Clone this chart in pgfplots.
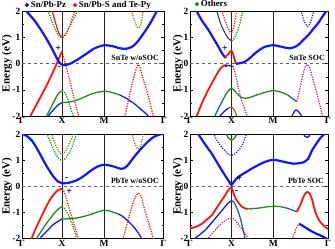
\documentclass[border=0pt]{standalone}
\usepackage{pgfplots}
\pgfplotsset{compat=1.18}
\usepackage{fontspec}
\setmainfont{Liberation Serif}
\definecolor{cblue}{RGB}{20,20,255}
\definecolor{cred}{RGB}{255,20,20}
\definecolor{cgreen}{RGB}{30,140,30}
\definecolor{colive}{RGB}{140,120,40}
\definecolor{cteal}{RGB}{30,100,150}
\definecolor{cpurple}{RGB}{200,30,120}
\definecolor{cnavy}{RGB}{40,60,110}
\tikzset{
  ann/.style={font=\bfseries\fontsize{10}{10}\selectfont, inner sep=0pt},
  txt/.style={font=\bfseries\fontsize{8}{8}\selectfont, anchor=east, inner sep=0pt},
  plab/.style={font=\bfseries\fontsize{10.5}{11}\selectfont, inner sep=0pt},
}
\pgfplotsset{
  panel/.style={scale only axis, ymin=-2, ymax=2, xmin=0, clip=true,
    axis line style={line width=0.8pt},
    ytick={-2,-1,0,1,2}, yticklabels={-2,-1,0,1,2},
    minor ytick={-1.5,-0.5,0.5,1.5},
    tick align=inside, major tick length=3bp, minor tick length=2bp,
    ytick pos=both,
    xtick style={draw=none},
    xticklabels={\textbf{Γ},\textbf{X},\textbf{M},\textbf{Γ}},
    xmajorgrids, major grid style={black!85, line width=0.8pt},
    yticklabel style={font=\bfseries\fontsize{9.5}{10}\selectfont, inner sep=1.5pt},
    xticklabel style={font=\bfseries\fontsize{9.5}{10}\selectfont, inner sep=1.5pt},
    ylabel={Energy (eV)},
    ylabel style={font=\bfseries\fontsize{11}{12}\selectfont, anchor=center},
    every tick/.style={black, line width=0.6pt},
  },
  bl/.style={cblue, line width=2.2pt, smooth, mark=none},
  bs/.style={cblue, line width=1.3pt, smooth, mark=none},
  rs/.style={cred, line width=1.8pt, smooth, mark=none},
  rt/.style={cred, line width=1.2pt, smooth, mark=none},
  gs/.style={cgreen, line width=1.3pt, smooth, mark=none},
  ts/.style={cteal, line width=1.3pt, smooth, mark=none},
  os/.style={colive, line width=1.3pt, smooth, mark=none},
  ns/.style={cnavy, line width=1.1pt, smooth, mark=none},
  rd/.style={cred, line width=1.3pt, dash pattern=on 1.2pt off 1.3pt, smooth, mark=none},
  pd/.style={cpurple, line width=1.3pt, dash pattern=on 1.2pt off 1.3pt, smooth, mark=none},
  gd/.style={cgreen, line width=1.3pt, dash pattern=on 1.2pt off 1.3pt, smooth, mark=none},
  od/.style={colive, line width=1.3pt, dash pattern=on 1.2pt off 1.3pt, smooth, mark=none},
  bd/.style={cblue, line width=1.2pt, dash pattern=on 1.2pt off 1.3pt, smooth, mark=none},
  zl/.style={black!60, line width=0.9pt, dash pattern=on 3.5pt off 2.5pt, mark=none},
  ldot/.style={only marks, mark=*, mark size=1.9pt, mark options={solid}},
}
\begin{document}
\begin{tikzpicture}
\useasboundingbox (0,0) rectangle (335bp,249bp);
% ---------------- (a) SnTe w/oSOC
\begin{axis}[panel, at={(22bp,133bp)}, anchor=south west, width=142bp, height=104.5bp,
  xmax=142, xtick={0,40,82,142},
  ylabel style={at={(axis description cs:-0.105,0.5)}},
  legend style={at={(axis description cs:0.02,1.062)}, anchor=west, draw=none, fill=none,
    font=\bfseries\fontsize{9}{9}\selectfont, inner sep=0pt,
    /tikz/every even column/.append style={column sep=5bp}},
  legend columns=2, legend cell align=left]
\addlegendimage{ldot, cblue}
\addlegendentry{Sn/Pb-Pz}
\addlegendimage{ldot, cred}
\addlegendentry{Sn/Pb-S and Te-Py}
\addplot[zl] coordinates {(0,0) (142,0)};
\addplot[gd] coordinates {(26,2.05)(30,1.6)(34,1.25)(37,1.07)(40,1.0)(43,1.08)(46,1.3)(49,1.6)(53,2.05)};
\addplot[rt] coordinates {(30,2.05)(34,1.5)(37,1.15)(40,1.02)};
\addplot[rd] coordinates {(40,1.02)(44,1.15)(48,1.45)(52,1.75)(56,2.05)};
\addplot[rs] coordinates {(6,-2.2)(9,-1.96)(14,-1.6)(19.7,-1.19)(25,-0.8)(29.7,-0.42)(33,-0.15)(36.3,0.15)(38.5,0.35)(40,0.47)};
\addplot[rd] coordinates {(40,0.47)(43,0.05)(46.3,-0.42)(51,-1.15)(56.3,-1.96)(57.5,-2.2)};
\addplot[gs] coordinates {(23,-2.2)(24.7,-2)(30,-1.6)(35,-1.22)(38,-1.08)(40,-1.04)};
\addplot[gd] coordinates {(40,-1.04)(43,-1.12)(46,-1.4)(51.3,-2)(52.5,-2.2)};
\addplot[bs] coordinates {(24,-2.15)(26.3,-2.0)(31,-1.78)(36,-1.58)(40,-1.49)};
\addplot[gs] coordinates {(40,-1.49)(49.7,-1.45)(59.7,-1.32)(70,-1.15)(82,-1.05)(90,-1.1)(98,-1.2)};
\addplot[bs] coordinates {(98,-1.2)(104,-1.32)(111.3,-1.5)(117,-1.68)(121.3,-1.82)(126.3,-2.0)(128,-2.1)};
\addplot[rd] coordinates {(101,-2.2)(103,-2)(108,-1.1)(112,-0.5)(114.5,-0.15)(116.3,-0.03)(118,-0.15)(120.5,-0.5)(125,-1.05)(131.3,-2)(133,-2.2)};
\addplot[od] coordinates {(109.7,2.05)(112,1.7)(114.5,1.45)(116.3,1.37)(118.3,1.45)(120,1.7)(121.3,2.05)};
\addplot[bl] coordinates {(0,2.2)(4.7,2.0)(13,1.63)(18,1.35)(23,1.05)(29.7,0.6)(34.7,0.22)(38,0.02)(41,-0.05)(44,-0.04)(48,0.0)(54.7,0.14)(64.7,0.39)(72,0.58)(78,0.67)(82,0.71)(90,0.68)(97,0.6)(104,0.57)(110,0.65)(115,0.82)(123,1.24)(129,1.6)(134.7,2.0)(142,2.4)};
\node[ann] at (axis cs:36.3,0.57) {+};
\node[ann] at (axis cs:37.3,-0.17) {-};
\node[txt] at (axis cs:137,0.22) {SnTe w/oSOC};
\node[plab] at (axis description cs:-0.09,0.955) {(a)};
\end{axis}
% ---------------- (b) SnTe SOC
\begin{axis}[panel, at={(190bp,133bp)}, anchor=south west, width=138bp, height=104.5bp,
  xmax=138, xtick={0,41.5,83,138},
  ylabel style={at={(axis description cs:-0.087,0.5)}},
  legend style={at={(axis description cs:0.035,1.07)}, anchor=west, draw=none, fill=none,
    font=\bfseries\fontsize{9}{9}\selectfont, inner sep=0pt},
  legend cell align=left]
\addlegendimage{ldot, cgreen}
\addlegendentry{Others}
\addplot[zl] coordinates {(0,0) (138,0)};
\addplot[ns] coordinates {(26.7,2.05)(30,1.6)(34,1.25)(38,0.98)(41.5,0.88)};
\addplot[gd] coordinates {(41.5,0.88)(44,0.95)(47,1.2)(50,1.55)(53,2.05)};
\addplot[rd] coordinates {(31.7,2.05)(35,1.65)(38.5,1.33)(41.5,1.17)(43.5,1.35)(45,1.65)(46.5,2.05)};
\addplot[bl] coordinates {(0,2.35)(6.7,2.0)(12,1.65)(18.3,1.3)(23,1.0)(28.3,0.66)(32,0.4)(35,0.25)(36.5,0.24)};
\addplot[rs] coordinates {(35,0.24)(38,0.36)(40,0.46)(41.5,0.5)(43,0.38)(44.5,0.18)(46,0.0)};
\addplot[bl] coordinates {(46,0.0)(50,0.02)(55,0.08)(60,0.22)(65,0.4)(70,0.54)(75,0.65)(83,0.71)(89,0.67)(95,0.62)(100,0.59)(104,0.63)(108.3,0.72)(113,0.9)(118.3,1.1)(123,1.32)(128.3,1.56)(132,1.78)(136,2.0)(138,2.1)};
\addplot[rs] coordinates {(4,-2.2)(6.7,-2.0)(12,-1.5)(18.3,-1.0)(24,-0.6)(28.3,-0.3)(32,-0.12)(35,-0.05)};
\addplot[bs] coordinates {(35,-0.05)(39,-0.07)(43,-0.1)};
\addplot[pd] coordinates {(43,-0.1)(46,-0.5)(50,-1.2)(53,-1.55)(57,-2.0)(58,-2.2)};
\addplot[ts] coordinates {(23,-2.2)(25,-2)(27,-1.82)(32,-1.45)};
\addplot[gs] coordinates {(32,-1.45)(37,-1.1)(41.5,-0.94)(45,-1.05)(49,-1.22)(53,-1.31)(57,-1.32)(62,-1.26)(72,-1.13)(83,-1.03)(92,-1.1)(98,-1.2)};
\addplot[ts] coordinates {(98,-1.2)(102,-1.32)(106.7,-1.45)};
\addplot[pd] coordinates {(106.7,-1.45)(109.5,-1.0)(112.5,-0.5)(115,-0.15)(117.5,-0.03)(120,-0.2)(124,-0.75)(128,-1.3)(132.5,-2.0)(134,-2.2)};
\addplot[bs] coordinates {(102,-2.0)(104,-1.85)(106,-1.77)(108.5,-1.83)(111,-1.97)(112.5,-2.1)};
\addplot[bs] coordinates {(28,-2.15)(30,-2.0)(35,-1.8)(38.5,-1.7)};
\addplot[os] coordinates {(38.5,-1.7)(41.5,-1.66)(44,-1.75)(46.7,-2.0)(48,-2.15)};
\addplot[bd] coordinates {(111,2.05)(113.5,1.7)(117.5,1.42)(120.5,1.6)(123,1.9)(124,2.05)};
\node[ann] at (axis cs:35,0.56) {+};
\node[ann] at (axis cs:36,-0.17) {-};
\node[txt] at (axis cs:135,0.22) {SnTe SOC};
\node[plab] at (axis description cs:-0.09,0.94) {(b)};
\end{axis}
% ---------------- (c) PbTe w/oSOC
\begin{axis}[panel, at={(22bp,10.7bp)}, anchor=south west, width=141.5bp, height=104bp,
  xmax=141.5, xtick={0,40,82,141.5},
  ylabel style={at={(axis description cs:-0.105,0.5)}}]
\addplot[zl] coordinates {(0,0) (141.5,0)};
\addplot[gd] coordinates {(24.7,2.05)(30,1.55)(35,1.17)(40,0.98)(45,1.15)(50,1.5)(54.7,2.05)};
\addplot[od] coordinates {(29,2.05)(33,1.65)(37,1.33)(40,1.22)(43,1.33)(47,1.62)(52,2.05)};
\addplot[bl] coordinates {(0,2.02)(5,1.93)(10,1.75)(14.7,1.47)(20,1.1)(24.7,0.77)(31.3,0.38)(36,0.18)(40,0.12)(46,0.13)(54.7,0.23)(62,0.4)(68,0.58)(75,0.75)(82,0.83)(90,0.78)(99.7,0.67)(105,0.78)(111.3,1.09)(118,1.4)(124.7,1.67)(131,1.88)(137.3,1.99)(141.5,2.02)};
\addplot[rs] coordinates {(8,-2.2)(9.7,-2)(14,-1.6)(18,-1.28)(23,-0.88)(28,-0.51)(31.5,-0.33)(34.7,-0.19)(37.5,-0.12)(40,-0.1)};
\addplot[rd] coordinates {(40,-0.1)(42,-0.2)(44.7,-0.51)(48,-0.95)(52,-1.45)(56.3,-2)(57.5,-2.2)};
\addplot[gs] coordinates {(13,-2.15)(14.7,-2)(18,-1.8)(25,-1.4)(32,-1.05)(37,-0.85)(40,-0.79)};
\addplot[gd] coordinates {(40,-0.79)(43,-0.87)(47,-1.15)(51,-1.55)(54.7,-2)(55.7,-2.15)};
\addplot[bs] coordinates {(16,-2.15)(18,-2)(25,-1.72)(32,-1.45)(40,-1.26)};
\addplot[gs] coordinates {(40,-1.26)(54.7,-1.22)(68,-1.09)(82,-0.92)(90,-0.98)(96,-1.06)};
\addplot[bs] coordinates {(96,-1.06)(100,-1.14)(105,-1.3)(111.3,-1.54)(116,-1.78)(119.7,-2)(121,-2.1)};
\addplot[rd] coordinates {(100,-2.15)(101.3,-2)(105,-1.45)(109,-0.9)(113,-0.45)(116.3,-0.26)(119.5,-0.45)(123,-0.95)(127,-1.45)(131.3,-2)(132.5,-2.15)};
\addplot[od] coordinates {(109.7,2.05)(112,1.75)(114.5,1.52)(116.3,1.44)(118.3,1.52)(120,1.75)(121.3,2.05)};
\node[ann] at (axis cs:44.7,0.28) {-};
\node[ann] at (axis cs:47.3,-0.19) {+};
\node[txt] at (axis cs:137,0.22) {PbTe w/oSOC};
\node[plab] at (axis description cs:-0.09,0.94) {(c)};
\end{axis}
% ---------------- (d) PbTe SOC
\begin{axis}[panel, at={(190bp,10.7bp)}, anchor=south west, width=138bp, height=104bp,
  xmax=138, xtick={0,41.5,83.3,138},
  ylabel style={at={(axis description cs:-0.087,0.5)}}]
\addplot[zl] coordinates {(0,0) (138,0)};
\addplot[bd] coordinates {(23.3,2.05)(28,1.7)(33,1.45)(38,1.25)(41.5,1.19)(45,1.25)(50,1.45)(53.5,1.7)(56.7,2.05)};
\addplot[gs] coordinates {(36,2.05)(38,1.88)(41.5,1.77)(45,1.88)(47,2.05)};
\addplot[bs] coordinates {(113,2.05)(115,1.92)(117,1.88)(119,1.92)(121,2.05)};
\addplot[bs] coordinates {(0,-2.12)(5,-2.0)(15,-1.69)(25,-1.25)(33,-0.88)(38,-0.65)(41.5,-0.55)};
\addplot[ts] coordinates {(41.5,-0.55)(44,-0.62)(48,-0.95)(51.5,-1.4)(55,-2.0)(56,-2.15)};
\addplot[pd] coordinates {(16,-2.15)(18.3,-2)(26,-1.65)(33,-1.38)(38,-1.25)(41.5,-1.22)(45,-1.3)(50,-1.55)(58.3,-2)(59.5,-2.1)};
\addplot[rs] coordinates {(0,-1.62)(5,-1.57)(11.7,-1.45)(16,-1.3)(21.7,-1.12)(26.7,-0.83)(31.7,-0.54)(35,-0.35)(38.3,-0.15)(41.5,-0.03)};
\addplot[rs] coordinates {(41.5,-0.03)(43,-0.2)(45,-0.42)(48.3,-0.62)(51.7,-0.78)(55,-0.85)(58.3,-0.87)};
\addplot[gs] coordinates {(58.3,-0.87)(68.3,-0.84)(75,-0.8)(83.3,-0.77)(90,-0.78)(95,-0.82)};
\addplot[ts] coordinates {(95,-0.82)(100,-0.88)(106.7,-0.98)};
\addplot[rs] coordinates {(106.7,-0.98)(110,-0.75)(113,-0.45)(115.5,-0.27)(117.5,-0.21)(119.5,-0.27)(122,-0.5)(125,-0.94)(129,-1.3)(133.3,-1.5)(138,-1.65)};
\addplot[pd] coordinates {(101,-2.15)(104,-1.85)(107,-1.55)(109,-1.45)};
\addplot[bl] coordinates {(109,-1.45)(112,-1.5)(118,-1.65)(125,-1.8)(132,-1.92)(138,-2.05)};
\addplot[bl] coordinates {(0,2.45)(8.3,2.0)(15,1.62)(21.7,1.26)(26.7,0.94)(31.7,0.62)(35,0.42)(38.3,0.23)(41.5,0.04)};
\addplot[bl] coordinates {(41.5,0.04)(44,0.18)(48.3,0.36)(55,0.52)(61.7,0.68)(68,0.81)(75,0.94)(83.3,1.02)(93,0.95)(104,0.87)(114,0.93)(118,1.05)(122,1.38)(126,1.62)(130,1.84)(134,2.0)(138,2.12)};
\node[ann] at (axis cs:49.5,0.3) {+};
\node[ann] at (axis cs:46.5,-0.22) {-};
\node[txt] at (axis cs:134,0.2) {PbTe SOC};
\node[plab] at (axis description cs:-0.09,0.94) {(d)};
\end{axis}
\end{tikzpicture}
\end{document}
